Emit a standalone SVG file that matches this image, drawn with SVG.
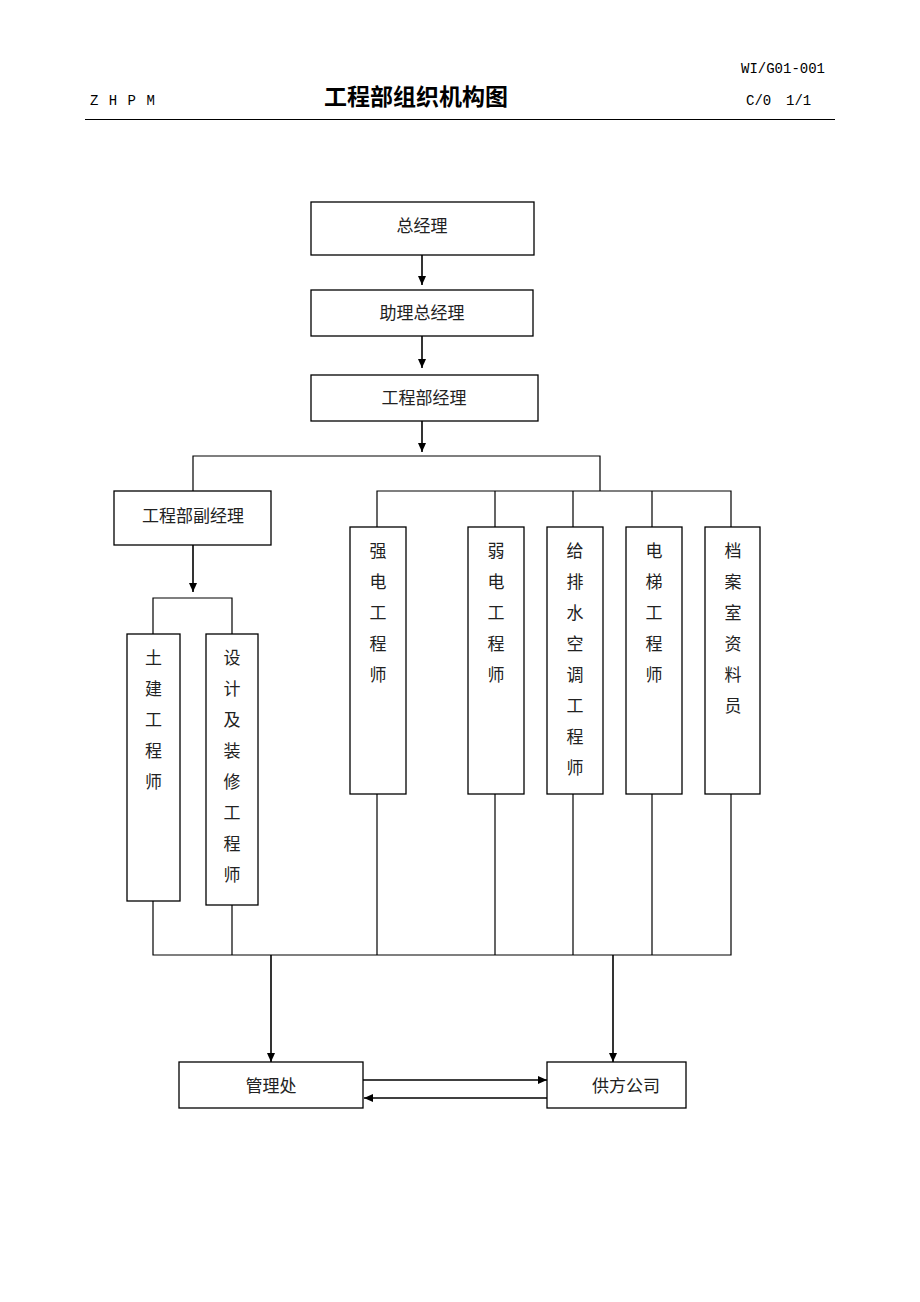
<svg xmlns="http://www.w3.org/2000/svg" width="920" height="1302" viewBox="0 0 920 1302">
<style>
.box{fill:#fff;stroke:#000;stroke-width:1.3}
.t{font-family:"Noto Sans CJK SC","Noto Sans CJK JP",sans-serif;font-size:17px;fill:#222;text-anchor:middle}
.h{font-family:"Liberation Mono",monospace;font-size:14px;fill:#000}
.ln{fill:none;stroke:#000;stroke-width:1.2}
.ar{fill:none;stroke:#000;stroke-width:1.6;marker-end:url(#ah)}
</style>
<defs>
<marker id="ah" markerWidth="10" markerHeight="10" refX="9" refY="5" orient="auto" markerUnits="userSpaceOnUse">
<path d="M0,1 L9,5 L0,9 Z" fill="#000"/>
</marker>
</defs>
<rect width="920" height="1302" fill="#fff"/>
<g id="header">
<text class="h" x="825" y="73" text-anchor="end">WI/G01-001</text>
<text class="h" x="90" y="105" letter-spacing="1">Z H P M</text>
<text x="416" y="105" text-anchor="middle" font-family="Noto Sans CJK SC,sans-serif" font-size="23" font-weight="bold" fill="#000">工程部组织机构图</text>
<text class="h" x="746" y="105">C/0</text>
<text class="h" x="786" y="105">1/1</text>
<line x1="85" y1="119.5" x2="835" y2="119.5" stroke="#000" stroke-width="1.2"/>
</g>
<g id="connectors">
<line class="ar" x1="422" y1="255" x2="422" y2="285"/>
<line class="ar" x1="422" y1="336" x2="422" y2="368"/>
<line class="ar" x1="422" y1="421" x2="422" y2="452"/>
<path class="ln" d="M193,491 V456 H600 V491"/>
<path class="ln" d="M377,527 V491 H731 V527 M495,491 V527 M573,491 V527 M652,491 V527"/>
<line class="ar" x1="193" y1="545" x2="193" y2="592"/>
<path class="ln" d="M153,634 V598 H232 V634"/>
<path class="ln" d="M153,901 V955 H731 V794 M232,905 V955 M377,794 V955 M495,794 V955 M573,794 V955 M652,794 V955"/>
<line class="ar" x1="271" y1="955" x2="271" y2="1062"/>
<line class="ar" x1="613" y1="955" x2="613" y2="1062"/>
<line class="ar" x1="363" y1="1080" x2="547" y2="1080"/>
<line class="ar" x1="547" y1="1098" x2="364" y2="1098"/>
</g>
<g id="n-zongjingli"><rect class="box" x="311" y="202" width="223" height="53"/><text class="t" x="422" y="232">总经理</text></g>
<g id="n-zhuli"><rect class="box" x="311" y="290" width="222" height="46"/><text class="t" x="422" y="319">助理总经理</text></g>
<g id="n-gcbjl"><rect class="box" x="311" y="375" width="227" height="46"/><text class="t" x="424" y="404">工程部经理</text></g>
<g id="n-fujingli"><rect class="box" x="114" y="491" width="157" height="54"/><text class="t" x="193" y="522">工程部副经理</text></g>
<g id="n-tujian"><rect class="box" x="127" y="634" width="53" height="267"/>
<text class="t" x="153.5" y="664">土</text><text class="t" x="153.5" y="695">建</text><text class="t" x="153.5" y="726">工</text><text class="t" x="153.5" y="757">程</text><text class="t" x="153.5" y="788">师</text></g>
<g id="n-sheji"><rect class="box" x="206" y="634" width="52" height="271"/>
<text class="t" x="232" y="664">设</text><text class="t" x="232" y="695">计</text><text class="t" x="232" y="726">及</text><text class="t" x="232" y="757">装</text><text class="t" x="232" y="788">修</text><text class="t" x="232" y="819">工</text><text class="t" x="232" y="850">程</text><text class="t" x="232" y="881">师</text></g>
<g id="n-qiangdian"><rect class="box" x="350" y="527" width="56" height="267"/>
<text class="t" x="378" y="557">强</text><text class="t" x="378" y="588">电</text><text class="t" x="378" y="619">工</text><text class="t" x="378" y="650">程</text><text class="t" x="378" y="681">师</text></g>
<g id="n-ruodian"><rect class="box" x="468" y="527" width="56" height="267"/>
<text class="t" x="496" y="557">弱</text><text class="t" x="496" y="588">电</text><text class="t" x="496" y="619">工</text><text class="t" x="496" y="650">程</text><text class="t" x="496" y="681">师</text></g>
<g id="n-geipaishui"><rect class="box" x="547" y="527" width="56" height="267"/>
<text class="t" x="575" y="557">给</text><text class="t" x="575" y="588">排</text><text class="t" x="575" y="619">水</text><text class="t" x="575" y="650">空</text><text class="t" x="575" y="681">调</text><text class="t" x="575" y="712">工</text><text class="t" x="575" y="743">程</text><text class="t" x="575" y="774">师</text></g>
<g id="n-dianti"><rect class="box" x="626" y="527" width="56" height="267"/>
<text class="t" x="654" y="557">电</text><text class="t" x="654" y="588">梯</text><text class="t" x="654" y="619">工</text><text class="t" x="654" y="650">程</text><text class="t" x="654" y="681">师</text></g>
<g id="n-dangan"><rect class="box" x="705" y="527" width="55" height="267"/>
<text class="t" x="733" y="557">档</text><text class="t" x="733" y="588">案</text><text class="t" x="733" y="619">室</text><text class="t" x="733" y="650">资</text><text class="t" x="733" y="681">料</text><text class="t" x="733" y="712">员</text></g>
<g id="n-guanlichu"><rect class="box" x="179" y="1062" width="184" height="46"/><text class="t" x="271" y="1092">管理处</text></g>
<g id="n-gongfang"><rect class="box" x="547" y="1062" width="139" height="46"/><text class="t" x="626" y="1092">供方公司</text></g>
</svg>
